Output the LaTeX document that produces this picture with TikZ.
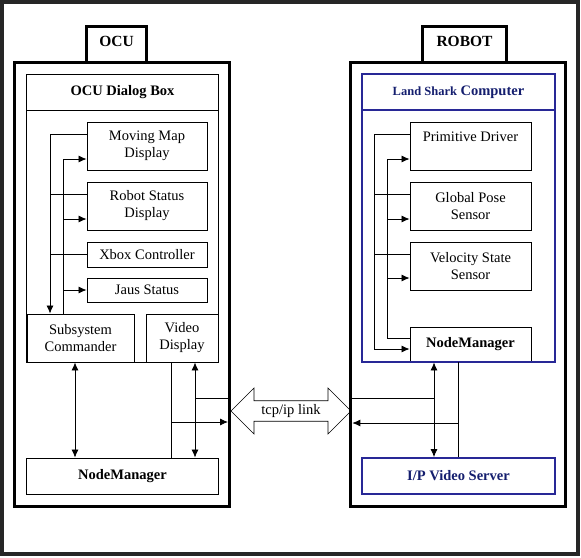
\documentclass[tikz,border=0pt]{standalone}
\usepackage{fontspec}
\setmainfont{Liberation Serif}
\usetikzlibrary{arrows.meta,shapes.arrows}

\definecolor{sharkblue}{RGB}{40,40,150}
\definecolor{sharktext}{RGB}{20,30,110}

\tikzset{
  frame/.style={draw, line width=3pt, outer sep=0pt, minimum width=215pt, minimum height=444pt},
  tab/.style={draw, line width=3pt, outer sep=0pt, minimum height=35.7pt, text depth=7pt, font=\fontsize{15.5}{18}\selectfont\bfseries},
  box/.style={draw, line width=0.9pt, inner sep=0pt, align=center, minimum width=120pt, minimum height=48pt, font=\fontsize{14.5}{17}\selectfont},
  bluebox/.style={box, draw=sharkblue, line width=1.8pt, text=sharktext, font=\fontsize{14.5}{17}\selectfont\bfseries},
  >={Latex[length=8pt,width=7pt]}
}

\begin{document}
\begin{tikzpicture}[x=1pt, y=-1pt, line width=0.8pt]
\useasboundingbox (0,0) rectangle (581,557);

\draw[line width=4pt, black!85] (2,2) rectangle (578,554);

\node[frame] (ocu) at (122,284.5) {};

\node[frame] (robot) at (458.3,284.5) {};

\node[tab, minimum width=59.5pt] (ocutab) at (116.5,44.6) {OCU};

\node[tab, minimum width=83.4pt] (robottab) at (464.5,44.6) {ROBOT};

\node[box, minimum width=191.6pt, minimum height=288pt] (dlg) at (122.5,218) {};

\node[box, minimum width=191.6pt, minimum height=36pt, font=\fontsize{14.5}{17}\selectfont\bfseries] (dlghead) at (122.5,92.3) {OCU Dialog Box};

\node[box] (mmap) at (147,146) {Moving Map\\Display};

\node[box] (rstat) at (147,206) {Robot Status\\Display};

\node[box, minimum height=25pt] (xbox) at (147,254.5) {Xbox Controller};

\node[box, minimum height=24pt] (jaus) at (147,290) {Jaus Status};

\node[box, minimum width=107pt] (sc) at (80.5,338) {Subsystem\\Commander};

\node[box, minimum width=72pt] (vid) at (182,338) {Video\\Display};

\node[box, minimum width=191.6pt, minimum height=36pt, font=\fontsize{14.5}{17}\selectfont\bfseries] (ocunm) at (122.5,476) {NodeManager};

\node[box, minimum width=121pt] (pdrv) at (470.5,146) {Primitive Driver\\[2pt]\mbox{}};

\node[box, minimum width=121pt] (gps) at (470.5,206) {Global Pose\\Sensor};

\node[box, minimum width=121pt] (vss) at (470.5,266) {Velocity State\\Sensor};

\node[box, minimum width=121pt, minimum height=35pt, font=\fontsize{14.5}{17}\selectfont\bfseries] (rnm) at (470.5,344.5) {NodeManager};

\node[bluebox, minimum width=193pt, minimum height=288pt] (lshark) at (458.5,218) {};

\node[bluebox, minimum width=193pt, minimum height=36pt] (lshead) at (458.5,92.3) {{\fontsize{12.5}{15}\selectfont Land Shark} Computer};

\node[bluebox, minimum width=193pt, minimum height=36pt] (ipvs) at (458.5,476) {I/P Video Server};

\node[double arrow, draw, line width=0.6pt, minimum height=120pt, minimum width=46pt, double arrow head extend=11pt, inner sep=2pt, font=\fontsize{14.5}{17}\selectfont] (link) at (291,411) {tcp/ip link};

\coordinate (busA) at (50,134);
\coordinate (busB) at (63,159);
\coordinate (busC) at (374,349);
\coordinate (busD) at (387,338);
\coordinate (scnm) at (75,0);
\coordinate (ocuA) at (171,422);
\coordinate (ocuB) at (195,398);
\coordinate (rlinkA) at (434,398);
\coordinate (rlinkB) at (458,423);

\draw[->] ([yshift=12pt]mmap.west) -- (busA) -- (busA |- sc.north);
\draw ([yshift=12pt]rstat.west) -| (busA);
\draw (xbox.west) -| (busA);

\draw (busB |- sc.north) -- (busB);
\draw[->] (busB) -- (busB -| mmap.west);
\draw[->] (busB |- sc.north) |- ([yshift=-13pt]rstat.west);
\draw[->] (busB |- sc.north) |- (jaus.west);

\draw[<->] (scnm |- sc.south) -- (scnm |- ocunm.north);
\draw[<->] (ocuB |- vid.south) -- (ocuB |- ocunm.north);
\draw (ocuA |- vid.south) -- (ocuA |- ocunm.north);
\draw[->, shorten >=1.5pt] (ocuA) -- (ocuA -| ocu.east);
\draw (ocuB) -- (ocuB -| ocu.east);

\draw[->] ([yshift=12pt]pdrv.west) -| (busC) -- (busC -| rnm.west);
\draw ([yshift=12pt]gps.west) -| (busC);
\draw ([yshift=12pt]vss.west) -| (busC);

\draw (rnm.west |- busD) -- (busD);
\draw[->] (busD) |- ([yshift=-13pt]pdrv.west);
\draw[->] (busD) |- ([yshift=-13pt]gps.west);
\draw[->] (busD) |- ([yshift=-12pt]vss.west);

\draw[<->] (rlinkA |- rnm.south) -- (rlinkA |- ipvs.north);
\draw (rlinkA) -- (rlinkA -| robot.west);
\draw (rlinkB |- rnm.south) -- (rlinkB |- ipvs.north);
\draw[->, shorten >=1.5pt] (rlinkB) -- (rlinkB -| robot.west);
\end{tikzpicture}
\end{document}
